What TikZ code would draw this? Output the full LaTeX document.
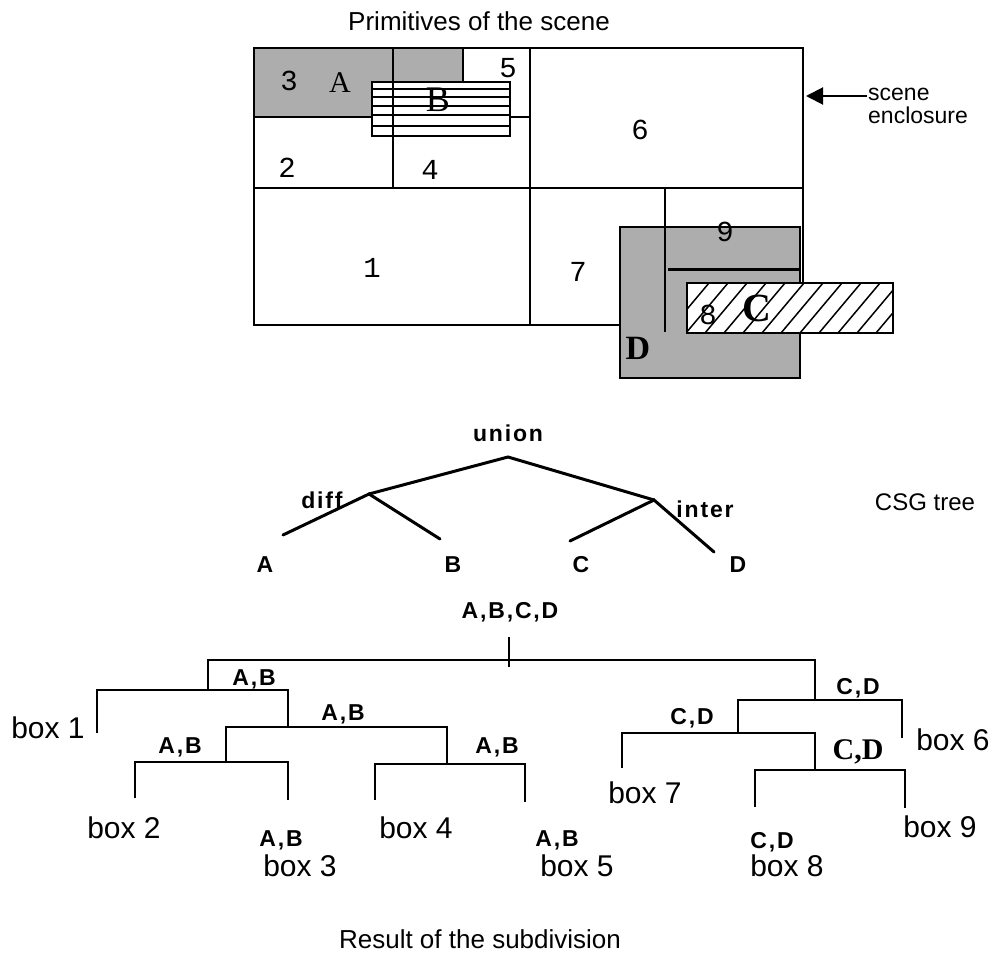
\documentclass[tikz,border=0pt]{standalone}
\usepackage{fontspec}
\setmainfont{Liberation Sans}
\newfontfamily\serf{Liberation Serif}
\newfontfamily\mono{Liberation Mono}
\newfontfamily\lbl[LetterSpace=8]{Liberation Sans}
\usetikzlibrary{arrows.meta,positioning,calc}

\begin{document}
\begin{tikzpicture}[
    x=1pt, y=-1pt,
    wire/.style={line width=2pt},
    csg/.style={line width=3pt, line cap=round},
    dots/.style={fill=black!32},
    titletext/.style={font=\fontsize{26}{26}\selectfont},
    boxlbl/.style={font=\fontsize{30}{30}\selectfont},
    setlbl/.style={font=\lbl\bfseries\fontsize{23}{23}\selectfont},
    cellno/.style={font=\mono\fontsize{29}{29}\selectfont},
    prim/.style={font=\serf\bfseries\fontsize{34}{34}\selectfont},
]
\useasboundingbox (0,0) rectangle (994,957);

% scene
\node[titletext] (ttl) at (479,21) {Primitives of the scene};
\filldraw[dots, wire] (254,48) rectangle (463,117);
\draw[wire] (254,48) rectangle (803,325);
\draw[wire] (393,48) -- (393,188);
\draw[wire] (530,48) -- (530,325);
\draw[wire] (254,117) -- (530,117);
\draw[wire] (254,188) -- (803,188);
\draw[wire] (665,188) -- (665,227);
\filldraw[dots, wire] (620,227) rectangle (800,378);
\draw[wire] (665,227) -- (665,332);
\draw[line width=3pt] (668,270) -- (800,270);
% primitive C
\filldraw[fill=white, wire] (687,283) rectangle (893,333);
\begin{scope}
  \clip (687,283) rectangle (893,333);
  \foreach \i in {0,...,12}
    \draw[line width=1.5pt] ({667+\i*19},333) -- ++(42,-50);
\end{scope}
\draw[wire] (687,283) rectangle (893,333);
% primitive B
\filldraw[fill=white, wire] (372,82) rectangle (510,136);
\foreach \y in {89,97,106,115,126}
  \draw[line width=1.2pt] (372,\y) -- (510,\y);
\draw[line width=1.2pt] (393,82) -- (393,136);

\node[cellno] (c1) at (372,268) {1};
\node[cellno] (c2) at (287,168) {2};
\node[cellno] (c3) at (289,81) {3};
\node[cellno] (c4) at (430,170) {4};
\node[cellno] (c5) at (508,68) {5};
\node[cellno] (c6) at (640,130) {6};
\node[cellno] (c7) at (578,272) {7};
\node[cellno] (c8) at (708,315) {8};
\node[cellno] (c9) at (725,232) {9};
\node[font=\serf\fontsize{30}{30}\selectfont] (pA) at (340,83) {A};
\node[font=\serf\fontsize{36}{36}\selectfont] (pB) at (438,100) {B};
\node[prim, font=\serf\bfseries\fontsize{40}{40}\selectfont] (pC) at (757,308) {C};
\node[prim] (pD) at (638,348) {D};

\node[align=left, anchor=west, inner sep=1pt, font=\fontsize{23}{23}\selectfont] (encl) at (867,106) {scene\\enclosure};
\coordinate (edge) at (806,96);
\draw[wire, -{Triangle[length=17pt,width=17pt]}] (encl.west |- edge) -- (edge);

% CSG tree
\node[setlbl] (un) at (508,433) {union};
\coordinate (rt) at (508,457);
\coordinate (dj) at (369,494);
\coordinate (ij) at (654,500);
\coordinate (ea) at (283,535);
\coordinate (eb) at (440,539);
\coordinate (ec) at (570,541);
\coordinate (ed) at (714,552);
\draw[csg] (dj) -- (rt) -- (ij);
\draw[csg] (ea) -- (dj) -- (eb);
\draw[csg] (ec) -- (ij) -- (ed);
\node[setlbl] (df) at (322,500) {diff};
\node[setlbl] (it) at (705,509) {inter};
\node[setlbl] (lA) at (265,565) {A};
\node[setlbl] (lB) at (453,565) {B};
\node[setlbl] (lC) at (581,565) {C};
\node[setlbl] (lD) at (738,565) {D};
\node[font=\fontsize{24}{24}\selectfont] (csgt) at (925,502) {CSG tree};

% subdivision
\node[setlbl] (all) at (510,612) {A,B,C,D};
\draw[wire] (509,637) -- (509,667);
\draw[wire] (208,690) |- (815,660) -- (815,700);
\draw[wire] (97,733) |- (288,690) -- (288,727);
\draw[wire] (226,762) |- (447,727) -- (447,764);
\draw[wire] (135,798) |- (288,762) -- (288,800);
\draw[wire] (375,800) |- (525,764) -- (525,802);
\draw[wire] (738,733) |- (902,700) -- (902,738);
\draw[wire] (622,768) |- (815,733) -- (815,770);
\draw[wire] (755,807) |- (905,770) -- (905,808);

\node[setlbl] (ab1) at (254,679) {A,B};
\node[setlbl] (ab2) at (343,714) {A,B};
\node[setlbl] (ab3) at (180,747) {A,B};
\node[setlbl] (ab4) at (497,747) {A,B};
\node[setlbl] (ab5) at (281,840) {A,B};
\node[setlbl] (ab6) at (557,840) {A,B};
\node[setlbl] (cd1) at (858,688) {C,D};
\node[setlbl] (cd2) at (692,718) {C,D};
\node[font=\serf\bfseries\fontsize{30}{30}\selectfont] (cd3) at (858,752) {C,D};
\node[setlbl] (cd4) at (772,842) {C,D};

\node[boxlbl] (b1) at (48,728) {box 1};
\node[boxlbl] (b2) at (124,828) {box 2};
\node[boxlbl] (b3) at (300,866) {box 3};
\node[boxlbl] (b4) at (416,828) {box 4};
\node[boxlbl] (b5) at (577,866) {box 5};
\node[boxlbl] (b6) at (953,740) {box 6};
\node[boxlbl] (b7) at (645,793) {box 7};
\node[boxlbl] (b8) at (787,866) {box 8};
\node[boxlbl] (b9) at (940,827) {box 9};

\node[titletext] (res) at (480,939) {Result of the subdivision};
\end{tikzpicture}
\end{document}
